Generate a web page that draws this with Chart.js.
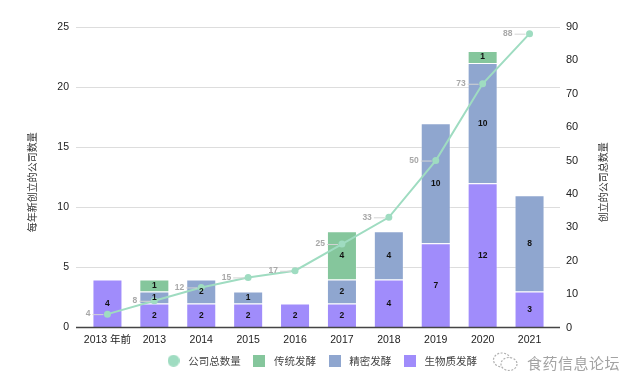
<!DOCTYPE html>
<html>
<head>
<meta charset="utf-8">
<script src="https://cdn.jsdelivr.net/npm/chart.js@4"></script>
<style>
html,body{margin:0;padding:0;background:#fff;}
#wrap{position:relative;width:641px;height:388px;}
#mark{position:absolute;left:492px;top:351px;height:22px;display:flex;align-items:center;
  font-family:"Noto Sans CJK SC",sans-serif;font-size:15px;letter-spacing:0.5px;color:#a3a3a3;}
#mark svg{margin-right:8px;}
</style>
</head>
<body>
<div id="wrap">
  <canvas id="chart" width="641" height="388"></canvas>
  <div id="mark">
    <svg width="27" height="22" viewBox="0 0 27 22">
      <ellipse cx="10" cy="9" rx="8.5" ry="7" fill="none" stroke="#b0b0b0" stroke-width="1.2" stroke-dasharray="2 1.5"/>
      <ellipse cx="17" cy="13" rx="8" ry="6.5" fill="#fff" stroke="#b0b0b0" stroke-width="1.2" stroke-dasharray="2 1.5"/>
    </svg>食药信息论坛
  </div>
</div>
<script>
const categories = ['2013 年前','2013','2014','2015','2016','2017','2018','2019','2020','2021'];
const biomass = [4,2,2,2,2,2,4,7,12,3];
const precision = [0,1,2,1,0,2,4,10,10,8];
const traditional = [0,1,0,0,0,4,0,0,1,0];
const totalCompanies = [4,8,12,15,17,25,33,50,73,88];

const FONT = '"Liberation Sans", Arial, "Noto Sans CJK SC", sans-serif';
const cjk = '"Noto Sans CJK SC", sans-serif';

const colors = {
  bio: '#a08cfb',
  prec: '#8fa6cf',
  trad: '#85c69c',
  line: '#9fdcc1'
};

const swatch = (color, round) => {
  const c = document.createElement('canvas');
  c.width = 12; c.height = 12;
  const g = c.getContext('2d');
  g.fillStyle = color;
  if (round) { g.beginPath(); g.arc(6, 6, 6, 0, Math.PI * 2); g.fill(); }
  else g.fillRect(0, 0, 12, 12);
  return c;
};
const legendSwatches = [swatch(colors.bio), swatch(colors.prec), swatch(colors.trad), swatch(colors.line, true)];

// grid lines a little wider than the plot, like the original
const gridPlugin = {
  id: 'grid',
  beforeDatasetsDraw(chart) {
    const {ctx, chartArea, scales} = chart;
    ctx.save();
    ctx.strokeStyle = '#dddddd';
    ctx.lineWidth = 1;
    scales.y.ticks.forEach(t => {
      if (t.value === 0) return;
      const y = Math.round(scales.y.getPixelForValue(t.value)) + 0.5;
      ctx.beginPath();
      ctx.moveTo(chartArea.left - 8, y);
      ctx.lineTo(chartArea.right + 7, y);
      ctx.stroke();
    });
    ctx.restore();
  },
  afterDatasetsDraw(chart) {
    const {ctx, chartArea, scales} = chart;
    ctx.save();
    ctx.strokeStyle = '#444';
    ctx.lineWidth = 1.5;
    const y = scales.y.getPixelForValue(0);
    ctx.beginPath();
    ctx.moveTo(chartArea.left - 8, y);
    ctx.lineTo(chartArea.right + 7, y);
    ctx.stroke();
    ctx.restore();
  }
};

const labelPlugin = {
  id: 'labels',
  afterDatasetsDraw(chart) {
    const {ctx} = chart;
    ctx.save();
    chart.data.datasets.forEach((ds, di) => {
      const meta = chart.getDatasetMeta(di);
      if (ds.type === 'line') {
        ctx.font = 'bold 8.5px ' + FONT;
        ctx.textAlign = 'right';
        ctx.textBaseline = 'middle';
        meta.data.forEach((p, i) => {
          ctx.strokeStyle = '#d4d4d4';
          ctx.lineWidth = 1;
          ctx.beginPath();
          ctx.moveTo(p.x - 15, p.y + 0.5);
          ctx.lineTo(p.x - 4, p.y + 0.5);
          ctx.stroke();
          ctx.fillStyle = '#a8a8a8';
          ctx.fillText(ds.data[i], p.x - 17, p.y);
        });
      } else {
        ctx.font = 'bold 8.5px ' + FONT;
        ctx.textAlign = 'center';
        ctx.textBaseline = 'middle';
        ctx.fillStyle = '#111';
        meta.data.forEach((b, i) => {
          if (!ds.data[i]) return;
          ctx.fillText(ds.data[i], b.x, (b.y + b.base) / 2);
        });
      }
    });
    ctx.restore();
  }
};

const titlePlugin = {
  id: 'titles',
  afterDraw(chart) {
    const {ctx, chartArea} = chart;
    const cy = (chartArea.top + chartArea.bottom) / 2 + 5;
    ctx.save();
    ctx.font = '10px ' + cjk;
    ctx.fillStyle = '#333';
    ctx.textAlign = 'center';
    ctx.textBaseline = 'middle';
    [[32, '每年新创立的公司数量'], [603, '创立的公司总数量']].forEach(([x, t]) => {
      ctx.save();
      ctx.translate(x, cy);
      ctx.rotate(-Math.PI / 2);
      ctx.fillText(t, 0, 0);
      ctx.restore();
    });
    ctx.restore();
  }
};

const barBase = {
  type: 'bar',
  yAxisID: 'y',
  borderWidth: 1,
  borderColor: 'rgba(255,255,255,0.35)',
  barPercentage: 0.64,
  categoryPercentage: 1
};

new Chart(document.getElementById('chart'), {
  data: {
    labels: categories,
    datasets: [
      {...barBase, label: '生物质发酵', data: biomass, backgroundColor: colors.bio},
      {...barBase, label: '精密发酵', data: precision, backgroundColor: colors.prec},
      {...barBase, label: '传统发酵', data: traditional, backgroundColor: colors.trad},
      {
        type: 'line', label: '公司总数量', data: totalCompanies, yAxisID: 'y1',
        borderColor: colors.line, backgroundColor: colors.line,
        borderWidth: 2, pointRadius: 2.5, pointHoverRadius: 2.5, order: -1
      }
    ]
  },
  options: {
    responsive: false,
    animation: false,
    layout: {padding: {top: 27, bottom: 12, left: 0, right: 0}},
    plugins: {
      tooltip: {enabled: false},
      legend: {
        position: 'bottom',
        labels: {
          usePointStyle: true,
          pointStyleWidth: 19,
          padding: 9,
          color: '#444',
          font: {family: cjk, size: 10.5},
          sort: (a, b) => b.datasetIndex - a.datasetIndex,
          generateLabels: chart => Chart.defaults.plugins.legend.labels.generateLabels(chart)
            .map(l => ({...l, pointStyle: legendSwatches[l.datasetIndex]}))
        }
      }
    },
    scales: {
      x: {
        stacked: true,
        grid: {display: false, drawTicks: false},
        border: {display: false},
        ticks: {color: '#222', padding: 6, maxRotation: 0, autoSkip: false, font: {family: FONT, size: 10.5}},
        afterFit: s => { s.height = 19; }
      },
      y: {
        stacked: true,
        position: 'left',
        min: 0, max: 25,
        grid: {display: false, drawTicks: false},
        border: {display: false},
        ticks: {stepSize: 5, color: '#222', padding: 15, font: {family: FONT, size: 10.5}},
        afterFit: s => { s.width = 84; }
      },
      y1: {
        position: 'right',
        min: 0, max: 90,
        grid: {display: false, drawTicks: false},
        border: {display: false},
        ticks: {stepSize: 10, color: '#222', padding: 13, font: {family: FONT, size: 11}},
        afterFit: s => { s.width = 88; }
      }
    }
  },
  plugins: [gridPlugin, labelPlugin, titlePlugin]
});
</script>
</body>
</html>
